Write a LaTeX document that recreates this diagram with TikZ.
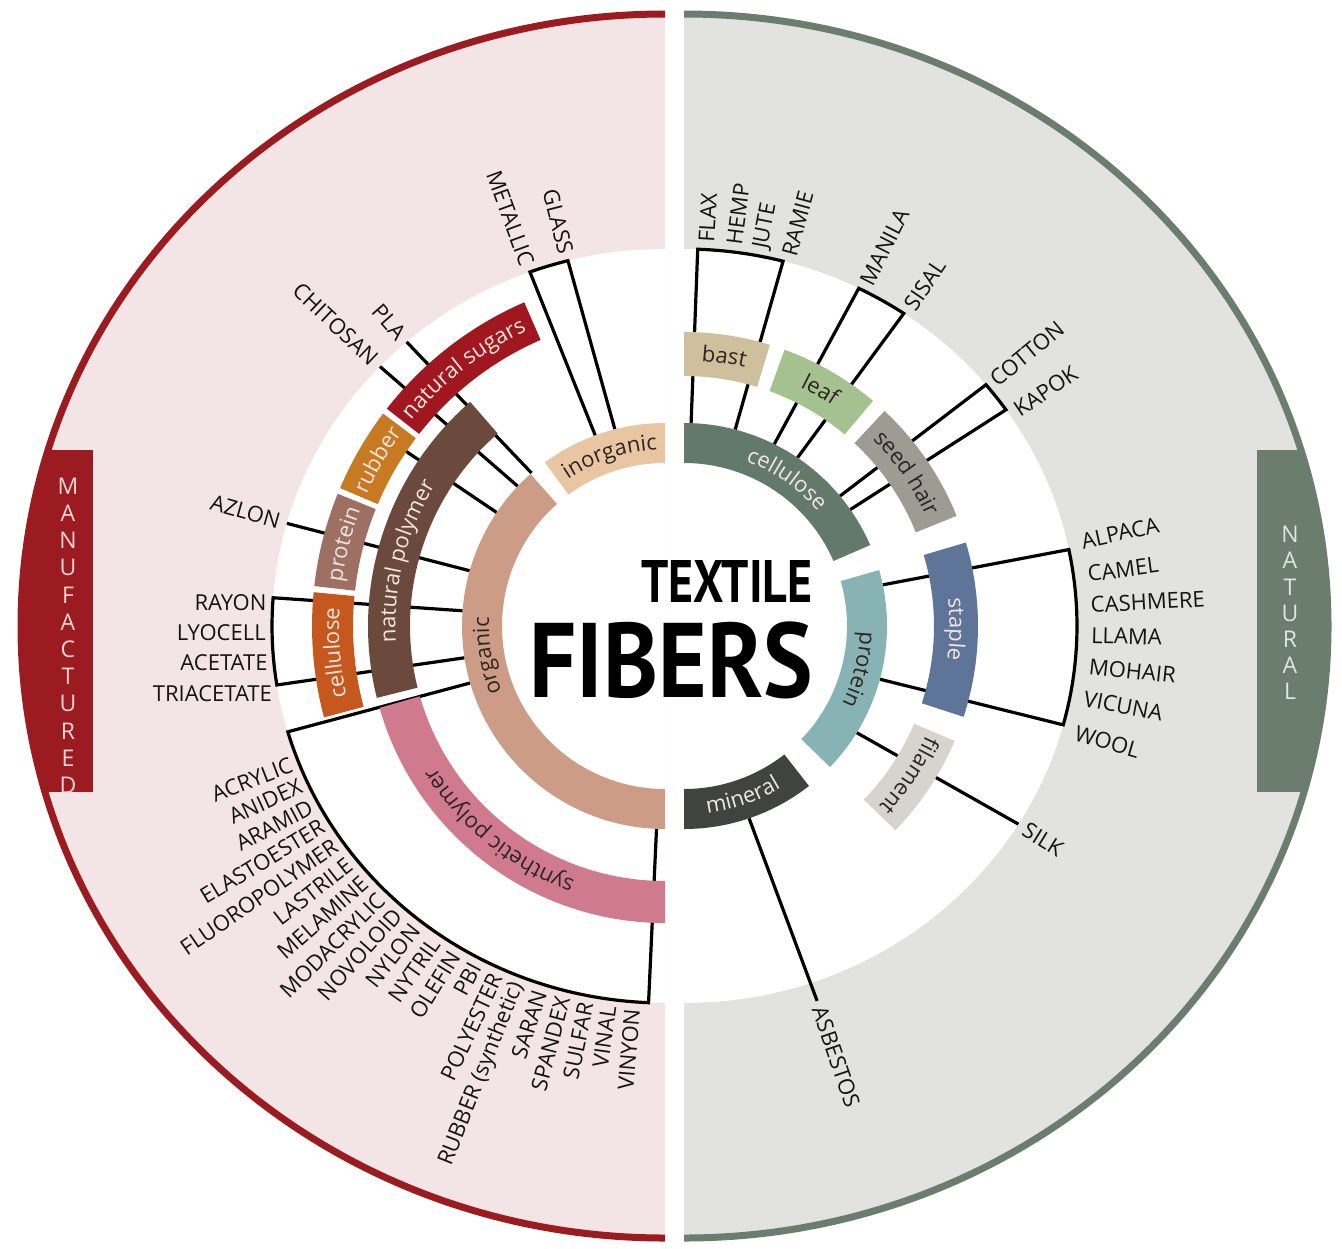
\documentclass[tikz,border=0pt]{standalone}
\usepackage{fontspec}
\setmainfont{Open Sans}
\newfontfamily\titlefont{PT Sans}
\usetikzlibrary{calc,decorations.text}

\definecolor{mredc}{HTML}{9B1B21}
\definecolor{mpink}{HTML}{F3E5E5}
\definecolor{mletter}{HTML}{F4D6D6}
\definecolor{ngreen}{HTML}{6B7E6D}
\definecolor{ngrey}{HTML}{E2E2E0}
\definecolor{nletter}{HTML}{DFE5DF}
\definecolor{corganic}{HTML}{CC9C87}
\definecolor{cinorg}{HTML}{E9C6A2}
\definecolor{cnatpoly}{HTML}{6B4A3D}
\definecolor{csynpoly}{HTML}{D07B8D}
\definecolor{ccellL}{HTML}{C6581D}
\definecolor{cprotL}{HTML}{9E7064}
\definecolor{crubber}{HTML}{C87A22}
\definecolor{csugar}{HTML}{A0171F}
\definecolor{ccellR}{HTML}{637A6A}
\definecolor{cprotR}{HTML}{88B3B5}
\definecolor{cmineral}{HTML}{40443F}
\definecolor{cbast}{HTML}{CEC09C}
\definecolor{cleaf}{HTML}{A4C18F}
\definecolor{cseed}{HTML}{9E9B93}
\definecolor{cstaple}{HTML}{5F7499}
\definecolor{cfil}{HTML}{D7D3CD}
\definecolor{labtext}{HTML}{141414}
\definecolor{darkt}{HTML}{2E2422}
\definecolor{lightt}{HTML}{F2E6E0}

\tikzset{
  spoke/.style={line width=1.6pt, black, line join=miter},
  lab/.style={font=\fontsize{11}{12}\selectfont, text=labtext, inner sep=1.5pt},
  bannerletter/.style={font=\fontsize{11.5}{12}\selectfont, inner sep=0pt},
}

% ring segment: center, a1, a2, r1, r2, colour
\newcommand\seg[6]{\fill[#6] ($(#1)+(#2:#4)$) arc[start angle=#2,end angle=#3,radius=#4] -- ($(#1)+(#3:#5)$) arc[start angle=#3,end angle=#2,radius=#5] -- cycle;}
% spoke: center, angle, inner radius
\newcommand\spk[3]{\draw[spoke] ($(#1)+(#2:#3)$) -- ($(#1)+(#2:393 and 377)$);}
% bracket: center, a1, a2, inner radius
\newcommand\brk[4]{\draw[spoke] ($(#1)+(#2:#4)$) -- ($(#1)+(#2:393 and 377)$) arc[start angle=#2,end angle=#3,x radius=393,y radius=377] -- ($(#1)+(#3:#4)$);}
% ring label, tops outward: center, mid angle, baseline radius, colour, text
\newcommand\rlab[5]{\path[decorate,decoration={text along path,text align=center,text={|\fontsize{11}{12}\selectfont\color{#4}|#5}}] ($(#1)+(#2+45:#3)$) arc[start angle=#2+45,end angle=#2-45,radius=#3];}
% ring label, tops inward
\newcommand\rlabin[5]{\path[decorate,decoration={text along path,text align=center,text={|\fontsize{11}{12}\selectfont\color{#4}|#5}}] ($(#1)+(#2-45:#3)$) arc[start angle=#2-45,end angle=#2+45,radius=#3];}
% item labels
\newcommand\labL[3]{\node[lab,anchor=east,rotate=#2-180] (#1) at ($(CL)+(#2:397 and 381)$) {#3};}
\newcommand\labLh[3]{\node[lab,anchor=east] (#1) at ($(CL)+(#2:396 and 380)$) {#3};}
\newcommand\labR[3]{\node[lab,anchor=west,rotate=#2] (#1) at ($(CR)+(#2:397 and 381)$) {#3};}
\newcommand\labRf[3]{\node[lab,anchor=west,rotate=#2] (#1) at ($(CR)+(#2:404 and 384)$) {#3};}

\begin{document}
\begin{tikzpicture}[x=0.5pt,y=0.5pt]
\useasboundingbox (0,0) rectangle (1342,-1248);
\coordinate (CL) at (665,-626);
\coordinate (CR) at (684,-626);

% ---------- outer halves ----------
\fill[mpink] (CL) ++(90:644 and 612) arc[start angle=90,end angle=270,x radius=644,y radius=612] -- cycle;
\begin{scope}
  \clip (CL) ++(90:644 and 612) arc[start angle=90,end angle=270,x radius=644,y radius=612] -- cycle;
  \fill[mredc] (0,-450) rectangle (93,-792);
\end{scope}
\draw[mredc,line width=3.5pt] (CL) ++(90:644 and 612) arc[start angle=90,end angle=270,x radius=644,y radius=612];

\fill[ngrey] (CR) ++(90:644 and 612) arc[start angle=90,end angle=-90,x radius=644,y radius=612] -- cycle;
\begin{scope}
  \clip (CR) ++(90:644 and 612) arc[start angle=90,end angle=-90,x radius=644,y radius=612] -- cycle;
  \fill[ngreen] (1257,-450) rectangle (1342,-792);
\end{scope}
\draw[ngreen,line width=3.5pt] (CR) ++(90:644 and 612) arc[start angle=90,end angle=-90,x radius=644,y radius=612];

\foreach \ch [count=\i] in {M,A,N,U,F,A,C,T,U,R,E,D}
  \node[bannerletter,text=mletter] (man\i) at (68,{-486-27.2*(\i-1)}) {\ch};
\foreach \ch [count=\i] in {N,A,T,U,R,A,L}
  \node[bannerletter,text=nletter] (nat\i) at (1290,{-534.5-26.2*(\i-1)}) {\ch};

% ---------- white inner zone ----------
\fill[white] (CL) ++(90:393 and 377) arc[start angle=90,end angle=270,x radius=393,y radius=377] -- cycle;
\fill[white] (CR) ++(90:393 and 377) arc[start angle=90,end angle=-90,x radius=393,y radius=377] -- cycle;

% ---------- spokes and brackets ----------
\brk{CL}{104.3}{110.1}{203}
\spk{CL}{131.1}{203}
\spk{CL}{136.5}{203}
\draw[spoke] ($(CL)+(146:203)$) -- ($(CL)+(146:330)$);
\spk{CL}{164.2}{203}
\brk{CL}{175.7}{189}{203}
\brk{CL}{196.3}{267.6}{203}

\brk{CR}{88}{75.4}{203}
\brk{CR}{63.6}{56}{203}
\brk{CR}{39.8}{35}{203}
\brk{CR}{11.7}{-15.2}{203}
\spk{CR}{-31.7}{203}
\draw[spoke] ($(CR)+(-71.3:203)$) -- ($(CR)+(-71.2:413 and 396)$);

% ---------- rings ----------
\seg{CL}{131.5}{270}{163}{203}{corganic}
\seg{CL}{90}{126.3}{163}{203}{cinorg}
\seg{CL}{131}{194}{255}{297}{cnatpoly}
\seg{CL}{196}{270}{255}{297}{csynpoly}
\seg{CL}{174.5}{195}{312}{353}{ccellL}
\seg{CL}{158}{173.5}{312}{353}{cprotL}
\seg{CL}{143}{157}{312}{353}{crubber}
\seg{CL}{113.5}{142}{312}{353}{csugar}

\seg{CR}{23.5}{90}{163}{203}{ccellR}
\seg{CR}{-44}{16}{163}{203}{cprotR}
\seg{CR}{-90}{-52}{163}{203}{cmineral}
\seg{CR}{73}{90}{250}{294}{cbast}
\seg{CR}{50}{70}{250}{294}{cleaf}
\seg{CR}{22}{47}{250}{294}{cseed}
\seg{CR}{-18}{16.5}{250}{294}{cstaple}
\seg{CR}{-44}{-23}{250}{294}{cfil}

% ---------- ring labels ----------
\rlab{CL}{189.5}{176}{darkt}{organic}
\rlab{CL}{108}{176}{darkt}{inorganic}
\rlab{CL}{166}{269.5}{lightt}{natural polymer}
\rlab{CL}{231}{269.5}{darkt}{synthetic polymer}
\rlab{CL}{184.7}{326}{lightt}{cellulose}
\rlab{CL}{165.7}{326}{lightt}{protein}
\rlab{CL}{150}{326}{lightt}{rubber}
\rlab{CL}{128}{326}{lightt}{natural sugars}

\rlab{CR}{55}{176}{lightt}{cellulose}
\rlab{CR}{-14}{176}{darkt}{protein}
\rlabin{CR}{-71}{189}{lightt}{mineral}
\rlab{CR}{81.5}{265.5}{darkt}{bast}
\rlab{CR}{60}{265.5}{darkt}{leaf}
\rlab{CR}{34.5}{265.5}{darkt}{seed hair}
\rlab{CR}{-0.7}{265.5}{lightt}{staple}
\rlab{CR}{-33.6}{265.5}{darkt}{filament}

% ---------- item labels, left ----------
\labL{glass}{104.3}{GLASS}
\labL{metallic}{110.1}{METALLIC}
\labL{pla}{131.1}{PLA}
\labL{chitosan}{136.5}{CHITOSAN}
\labL{azlon}{164.2}{AZLON}
\labLh{rayon}{176.4}{RAYON}
\labLh{lyocell}{181.0}{LYOCELL}
\labLh{acetate}{185.6}{ACETATE}
\labLh{triacetate}{190.2}{TRIACETATE}

\labL{acrylic}{201.1}{ACRYLIC}
\labL{anidex}{204.5}{ANIDEX}
\labL{aramid}{207.9}{ARAMID}
\labL{elastoester}{211.2}{ELASTOESTER}
\labL{fluoro}{214.6}{FLUOROPOLYMER}
\labL{lastrile}{218.0}{LASTRILE}
\labL{melamine}{221.4}{MELAMINE}
\labL{modacrylic}{224.8}{MODACRYLIC}
\labL{novoloid}{228.1}{NOVOLOID}
\labL{nylon}{231.5}{NYLON}
\labL{nytril}{234.9}{NYTRIL}
\labL{olefin}{238.3}{OLEFIN}
\labL{pbi}{241.7}{PBI}
\labL{polyester}{245.0}{POLYESTER}
\labL{rubbersyn}{248.4}{RUBBER (synthetic)}
\labL{saran}{251.8}{SARAN}
\labL{spandex}{255.2}{SPANDEX}
\labL{sulfar}{258.6}{SULFAR}
\labL{vinal}{261.9}{VINAL}
\labL{vinyon}{265.3}{VINYON}

% ---------- item labels, right ----------
\labR{flax}{86.8}{FLAX}
\labR{hemp}{82.8}{HEMP}
\labR{jute}{78.9}{JUTE}
\labR{ramie}{74.8}{RAMIE}
\labR{manila}{63}{MANILA}
\labR{sisal}{55.8}{SISAL}
\labR{cotton}{39.5}{COTTON}
\labR{kapok}{34}{KAPOK}
\labRf{alpaca}{12.6}{ALPACA}
\labRf{camel}{7.7}{CAMEL}
\labRf{cashmere}{3.1}{CASHMERE}
\labRf{llama}{-1.4}{LLAMA}
\labRf{mohair}{-6.0}{MOHAIR}
\labRf{vicuna}{-10.8}{VICUNA}
\labRf{wool}{-16.0}{WOOL}
\labR{silk}{-31.7}{SILK}
\node[lab,anchor=west,rotate=-71.2] (asbestos) at ($(CR)+(-71.2:416 and 399)$) {ASBESTOS};

% ---------- title ----------
\node[anchor=base east,inner sep=0pt,font=\titlefont\bfseries\fontsize{30}{30}\selectfont] (title1) at (813,-602) {\scalebox{0.8}[1]{TEXTILE}};
\node[anchor=base east,inner sep=0pt,font=\titlefont\bfseries\fontsize{53}{53}\selectfont] (title2) at (813,-697) {\scalebox{0.88}[1]{FIBERS}};
\end{tikzpicture}
\end{document}
